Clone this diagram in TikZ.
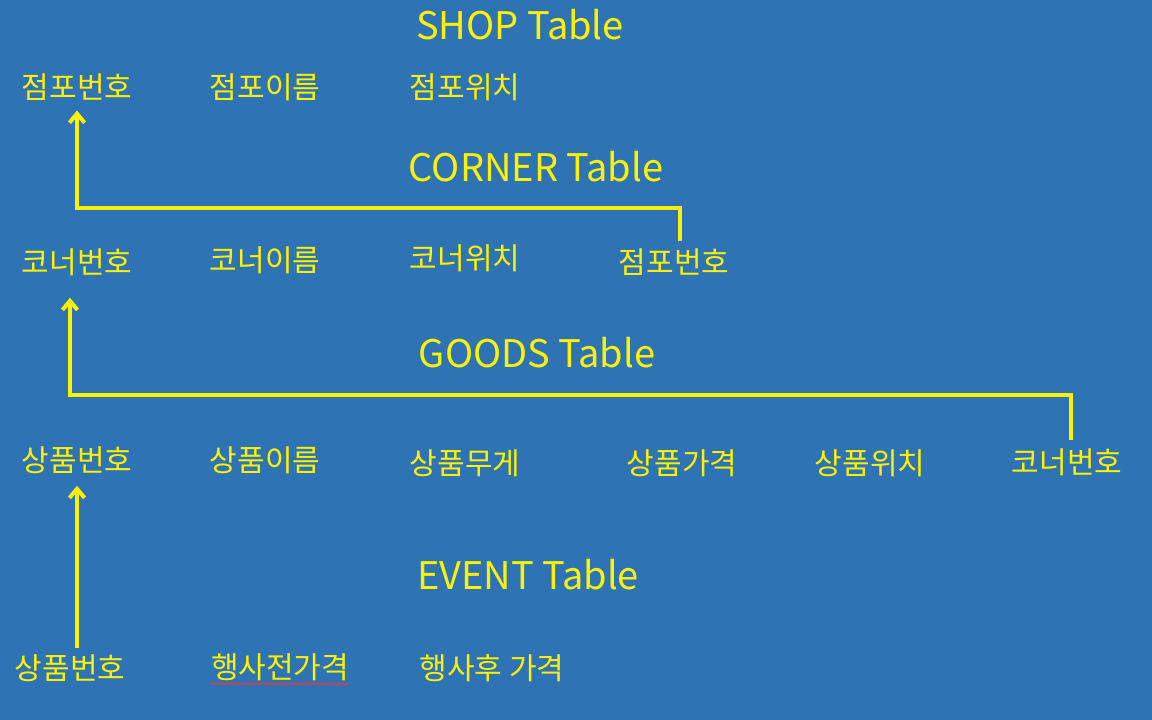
\documentclass[tikz,border=0pt]{standalone}
\usepackage{fontspec}
\setmainfont{Noto Sans CJK KR}
\usetikzlibrary{arrows.meta,decorations.pathmorphing}
\definecolor{bgblue}{RGB}{46,116,181}

\begin{document}
\begin{tikzpicture}[x=1pt,y=-1pt,
    field/.style={text=yellow, font=\fontsize{30}{30}\selectfont, inner sep=0pt},
    tabname/.style={text=yellow, font=\fontsize{38}{38}\selectfont, inner sep=0pt},
    link/.style={draw=yellow, line width=4pt, -{Straight Barb[length=9pt,width=15pt]}}]
    \fill[bgblue] (0,0) rectangle (1152,720);
    \useasboundingbox (0,0) rectangle (1152,720);

    % Define nodes
    \node[tabname] (shopT) at (520,25) {SHOP Table};
    \node[field] (sNo) at (77,87) {점포번호};
    \node[field] (sName) at (265,87) {점포이름};
    \node[field] (sLoc) at (465,87) {점포위치};

    \node[tabname] (cornT) at (536,167) {CORNER Table};
    \node[field] (cNo) at (77,262) {코너번호};
    \node[field] (cName) at (265,260) {코너이름};
    \node[field] (cLoc) at (465,258) {코너위치};
    \node[field] (cShop) at (674,262) {점포번호};

    \node[tabname] (goodsT) at (537,353) {GOODS Table};
    \node[field] (gNo) at (77,460) {상품번호};
    \node[field] (gName) at (265,460) {상품이름};
    \node[field] (gWt) at (465,463) {상품무게};
    \node[field] (gPrice) at (682,463) {상품가격};
    \node[field] (gLoc) at (870,463) {상품위치};
    \node[field] (gCorn) at (1067,462) {코너번호};

    \node[tabname] (eventT) at (528,575) {EVENT Table};
    \node[field] (eNo) at (70,668) {상품번호};
    \node[field] (ePre) at (280,667) {행사전가격};
    \node[field] (ePost) at (492,668) {행사후 가격};

    % Draw arrows between key fields
    \draw[link] ([xshift=6pt,yshift=7pt]cShop.north) -- ++(0,-33) -| ([yshift=-10pt]sNo.south);
    \draw[link] ([xshift=4pt,yshift=8pt]gCorn.north) -- ++(0,-45) -| ([xshift=-7pt,yshift=-22pt]cNo.south);
    \draw[link] ([xshift=7pt,yshift=6pt]eNo.north) -- ([xshift=7pt,yshift=-12pt]eNo.north |- gNo.south);

    % spell-check squiggle
    \draw[red!80, line width=0.8pt, decorate, decoration={zigzag,amplitude=0.8pt,segment length=3pt}]
        ([yshift=-3pt]ePre.south west) -- ([yshift=-3pt]ePre.south east);
\end{tikzpicture}
\end{document}
